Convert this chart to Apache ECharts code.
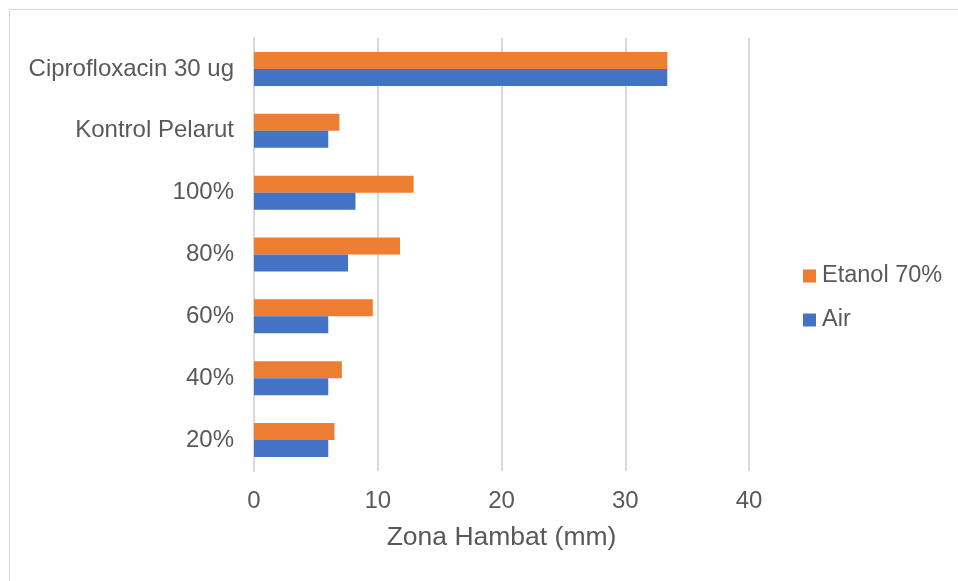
<!DOCTYPE html>
<html>
<head>
<meta charset="utf-8">
<script src="https://cdn.jsdelivr.net/npm/echarts@6/dist/echarts.min.js"></script>
<style>html,body{margin:0;padding:0;background:#fff}#c{width:958px;height:581px}</style>
</head>
<body>
<div id="c"></div>
<script>
const categories = ["20%", "40%", "60%", "80%", "100%", "Kontrol Pelarut", "Ciprofloxacin 30 ug"];
const airValues = [6.0, 6.0, 6.0, 7.6, 8.2, 6.0, 33.4];
const etanolValues = [6.5, 7.1, 9.6, 11.8, 12.9, 6.9, 33.4];
const xTicks = [0, 10, 20, 30, 40];
const xTitle = "Zona Hambat (mm)";
const seriesNames = ["Air", "Etanol 70%"];

const chart = echarts.init(document.getElementById('c'), null, {renderer: 'canvas'});
const font = "'Liberation Sans', Arial, sans-serif";
chart.setOption({
  animation: false,
  backgroundColor: '#ffffff',
  graphic: [{
    type: 'rect', shape: {x: 9.5, y: 9.5, width: 1000, height: 1000},
    style: {fill: 'none', stroke: '#d9d9d9', lineWidth: 1}, silent: true, z: -1
  }],
  grid: {left: 254, right: 209, top: 38, bottom: 110, containLabel: false},
  legend: {
    orient: 'vertical', left: 803, top: 264, padding: 0, itemWidth: 13, itemHeight: 13, itemGap: 20,
    icon: 'rect', data: [seriesNames[1], seriesNames[0]],
    textStyle: {fontFamily: font, fontSize: 23.5, color: '#595959', padding: [0, 0, 0, 1]}
  },
  xAxis: {
    type: 'value', min: xTicks[0], max: xTicks[xTicks.length - 1], interval: 10,
    name: xTitle, nameLocation: 'middle', nameGap: 53,
    nameTextStyle: {fontFamily: font, fontSize: 26.5, color: '#595959'},
    axisLine: {show: false}, axisTick: {show: false},
    axisLabel: {fontFamily: font, fontSize: 24, color: '#595959', margin: 18},
    splitLine: {show: true, lineStyle: {color: '#d9d9d9', width: 2}}
  },
  yAxis: {
    type: 'category', data: categories,
    axisLine: {show: true, lineStyle: {color: '#d9d9d9', width: 2}},
    axisTick: {show: false},
    axisLabel: {fontFamily: font, fontSize: 24, color: '#595959', margin: 20}
  },
  series: [
    {name: seriesNames[1], type: 'bar', data: etanolValues, barGap: '0%', barCategoryGap: '45%',
     itemStyle: {color: '#ED7D31'}},
    {name: seriesNames[0], type: 'bar', data: airValues, barGap: '0%', barCategoryGap: '45%',
     itemStyle: {color: '#4472C4'}}
  ]
});
</script>
</body>
</html>
